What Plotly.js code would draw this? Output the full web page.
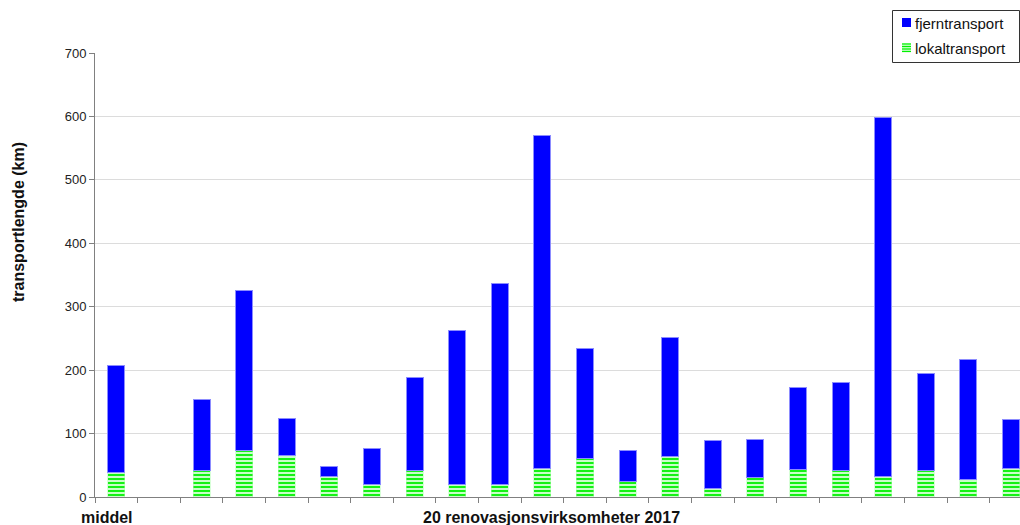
<!DOCTYPE html>
<html>
<head>
<meta charset="utf-8">
<script src="https://cdn.plot.ly/plotly-3.0.1.min.js"></script>
<style>html,body{margin:0;padding:0;background:#fff;}#chart{width:1020px;height:525px;}</style>
</head>
<body>
<div id="chart"></div>
<script>
// Categories: average ("middel"), an empty gap slot, then 20 waste companies
var categories = ['middel', '-', 'v1', 'v2', 'v3', 'v4', 'v5', 'v6', 'v7', 'v8', 'v9', 'v10',
                  'v11', 'v12', 'v13', 'v14', 'v15', 'v16', 'v17', 'v18', 'v19', 'v20'];
// lokaltransport (km), bottom segment
var lokaltransport = [38, null, 41, 74, 66, 32, 19, 41, 19, 20, 45, 60,
                      24, 64, 14, 31, 44, 41, 32, 41, 28, 45];
// fjerntransport (km), top segment
var fjerntransport = [169, null, 113, 252, 57, 16, 58, 148, 243, 317, 525, 174,
                      50, 188, 75, 60, 129, 140, 567, 154, 188, 77];
var yTicks = [0, 100, 200, 300, 400, 500, 600, 700];
var seriesNames = ['fjerntransport', 'lokaltransport'];

var L = 95, R = 1020, T = 53, B = 497;
function px(x) { return (x - L) / (R - L); }
function py(y) { return (B - y) / (B - T); }

var traces = [
  {
    type: 'bar', name: seriesNames[1], x: categories, y: lokaltransport,
    width: 0.4,
    marker: {
      color: '#c8ffc8',
      line: {color: '#b0ffb0', width: 0.5},
      pattern: {shape: '-', fgcolor: '#00f000', bgcolor: '#c8ffc8', size: 4, solidity: 0.45, fillmode: 'replace'}
    },
    hoverinfo: 'y'
  },
  {
    type: 'bar', name: seriesNames[0], x: categories, y: fjerntransport,
    width: 0.4,
    marker: {color: '#0000ff', line: {color: '#8c8cff', width: 1}},
    hoverinfo: 'y'
  }
];

// Legend drawn as a boxed key (matches the reference's compact key)
var shapes = [
  {type: 'rect', xref: 'paper', yref: 'paper', x0: px(892.5), x1: px(1019.5), y0: py(10.5), y1: py(62.5),
   line: {color: '#333333', width: 1}, fillcolor: '#ffffff', layer: 'above'},
  {type: 'rect', xref: 'paper', yref: 'paper', x0: px(902), x1: px(911), y0: py(18), y1: py(27),
   line: {width: 0}, fillcolor: '#0000ff', layer: 'above'},
  {type: 'rect', xref: 'paper', yref: 'paper', x0: px(902), x1: px(911), y0: py(43), y1: py(52),
   line: {width: 0}, fillcolor: '#c8ffc8', layer: 'above'}
];
[44, 46.5, 49, 51.5].forEach(function (yy) {
  shapes.push({type: 'line', xref: 'paper', yref: 'paper', x0: px(902), x1: px(911), y0: py(yy), y1: py(yy),
               line: {color: '#00f000', width: 1.2}, layer: 'above'});
});

var layout = {
  width: 1020, height: 525,
  margin: {l: L, r: 0, t: T, b: 525 - B},
  paper_bgcolor: '#ffffff', plot_bgcolor: '#ffffff',
  barmode: 'stack',
  font: {family: 'Arial, "Liberation Sans", sans-serif', color: '#222222'},
  showlegend: false,
  xaxis: {
    type: 'category', categoryorder: 'array', categoryarray: categories,
    range: [-0.5, 21.21],
    showticklabels: false, tickson: 'boundaries',
    ticks: 'outside', ticklen: 5, tickcolor: '#808080', tickwidth: 1,
    showline: true, linecolor: '#808080', linewidth: 1,
    showgrid: false, zeroline: false, fixedrange: true
  },
  yaxis: {
    range: [0, 700], tickvals: yTicks, ticktext: yTicks.map(String),
    ticks: 'outside', ticklen: 5, tickcolor: '#808080', tickwidth: 1,
    tickfont: {size: 13, color: '#222222'},
    showline: true, linecolor: '#808080', linewidth: 1,
    showgrid: true, gridcolor: '#dcdcdc', gridwidth: 1,
    zeroline: false, fixedrange: true
  },
  shapes: shapes,
  annotations: [
    {text: seriesNames[0], xref: 'paper', yref: 'paper', x: px(913), y: py(23),
     xanchor: 'left', yanchor: 'middle', showarrow: false, font: {size: 15, color: '#111111'}},
    {text: seriesNames[1], xref: 'paper', yref: 'paper', x: px(913), y: py(48),
     xanchor: 'left', yanchor: 'middle', showarrow: false, font: {size: 15, color: '#111111'}},
    {text: '<b>transportlengde (km)</b>', xref: 'paper', yref: 'paper',
     x: px(18), y: py(222), xanchor: 'center', yanchor: 'middle', textangle: -90,
     showarrow: false, font: {size: 16, color: '#111111'}},
    {text: '<b>middel</b>', xref: 'paper', yref: 'paper',
     x: px(79), y: py(517), xanchor: 'left', yanchor: 'middle',
     showarrow: false, font: {size: 16, color: '#111111'}},
    {text: '<b>20 renovasjonsvirksomheter 2017</b>', xref: 'paper', yref: 'paper',
     x: px(551), y: py(517), xanchor: 'center', yanchor: 'middle',
     showarrow: false, font: {size: 16, color: '#111111'}}
  ]
};

Plotly.newPlot('chart', traces, layout, {displayModeBar: false, staticPlot: true});
</script>
</body>
</html>
